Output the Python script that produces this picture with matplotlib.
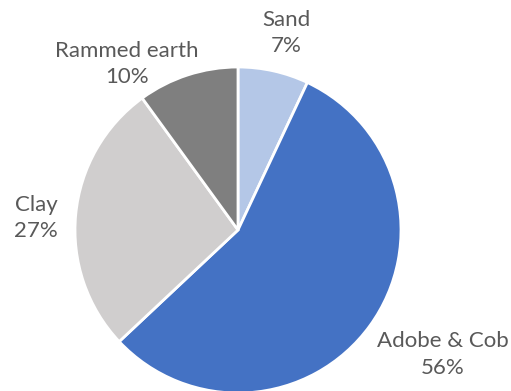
import matplotlib.pyplot as plt

labels = ['Sand', 'Adobe & Cob', 'Clay', 'Rammed earth']
shares = [7, 56, 27, 10]
colors = ['#B4C7E7', '#4472C4', '#D0CECE', '#7F7F7F']
# label block centres, in units of the pie radius
label_pos = [(0.295, 1.21), (1.255, -0.765), (-1.24, 0.074), (-0.68, 1.02)]

fig = plt.figure(figsize=(5.11, 3.91), dpi=100)
ax = fig.add_axes([0, 0, 1, 1])

r_px = 163.0
cx, cy = 238.0, 391 - 230.0

wedges, texts = ax.pie(shares, colors=colors, startangle=90, counterclock=False,
                       radius=1.0, labels=[f'{l}\n{s}%' for l, s in zip(labels, shares)],
                       wedgeprops=dict(edgecolor='white', linewidth=2.0))
for t, (x, y) in zip(texts, label_pos):
    t.set_position((x, y))
    t.set_ha('center')
    t.set_va('center')
    t.set_color('#595959')
    t.set_fontsize(16)
    t.set_family(['Lato', 'DejaVu Sans'])
    t.set_linespacing(1.4)

ax.set_xlim(-cx / r_px, (511 - cx) / r_px)
ax.set_ylim(-cy / r_px, (391 - cy) / r_px)
ax.set_aspect('auto')
ax.axis('off')

fig.savefig('out.png', dpi=100)
